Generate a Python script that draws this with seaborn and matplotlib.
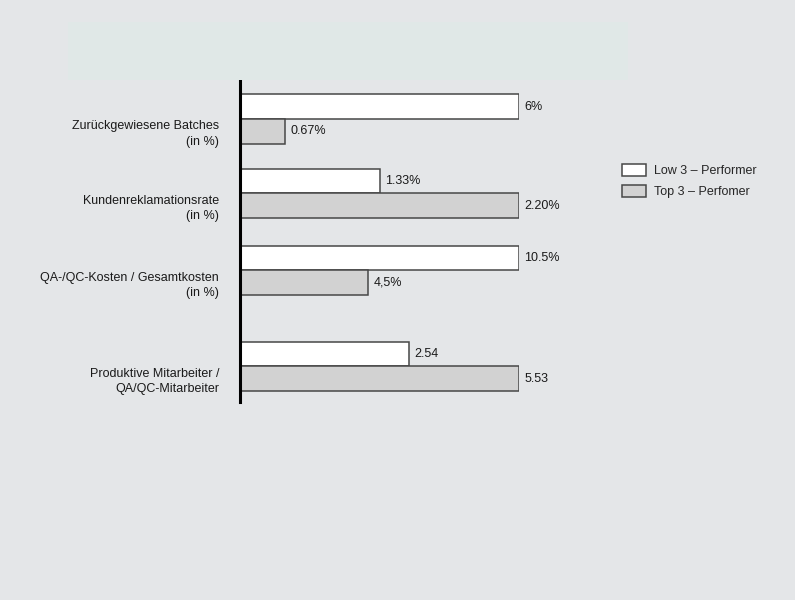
import matplotlib
matplotlib.use("Agg")
import matplotlib.pyplot as plt
import pandas as pd
import seaborn as sns
from matplotlib.patches import Rectangle

# categories and series
kategorien = [
    "Zurückgewiesene Batches\n(in %)",
    "Kundenreklamationsrate\n(in %)",
    "QA-/QC-Kosten / Gesamtkosten\n(in %)",
    "Produktive Mitarbeiter /\nQA/QC-Mitarbeiter",
]
serien = ["Low 3 – Performer", "Top 3 – Perfomer"]

# drawn bar lengths (the chart is not to scale), relative to the longest bar
low_laenge = [1.00, 0.50, 1.00, 0.605]
top_laenge = [0.16, 1.00, 0.46, 1.00]

# printed value labels
low_labels = ["6%", "1.33%", "10.5%", "2.54"]
top_labels = ["0.67%", "2.20%", "4,5%", "5.53"]

# layout: vertical group positions (last group set further apart)
gruppen_pos = [0.0, 1.0, 2.03, 3.32]

BG = "#e4e6e8"
farben = ["#ffffff", "#d2d2d2"]

df = pd.DataFrame({
    "pos": gruppen_pos * 2,
    "laenge": low_laenge + top_laenge,
    "serie": [serien[0]] * 4 + [serien[1]] * 4,
})

sns.set_style("white")
plt.rcParams["font.family"] = ["Liberation Sans", "DejaVu Sans"]
plt.rcParams["font.size"] = 9

fig = plt.figure(figsize=(7.95, 6.00), dpi=100, facecolor=BG)
fig.patches.append(Rectangle((68 / 795, 1 - 80 / 600), 560 / 795, 58 / 600,
                             transform=fig.transFigure, facecolor="#e0e8e7",
                             edgecolor="none", zorder=0))

ax = fig.add_axes([240 / 795, 1 - 402 / 600, 279 / 795, 322 / 600])
ax.set_facecolor("none")

sns.barplot(data=df, x="laenge", y="pos", hue="serie", hue_order=serien,
            orient="y", native_scale=True, width=0.66, gap=0,
            palette=farben, edgecolor="#474747", linewidth=1.1,
            errorbar=None, ax=ax)

for cont, labs in zip(ax.containers, [low_labels, top_labels]):
    ax.bar_label(cont, labels=labs, padding=4, fontsize=9, color="#1a1a1a",
                 clip_on=False)

ax.set_xlim(0, 1.0)
ax.set_ylim(3.80, -0.523)
ax.set_xticks([])
ax.set_yticks([p + 0.16 for p in gruppen_pos])
ax.set_yticklabels(kategorien, ha="right", fontsize=9, color="#1a1a1a",
                   linespacing=1.35)
ax.tick_params(axis="y", length=0, pad=15)
ax.set_xlabel("")
ax.set_ylabel("")

for s in ["top", "right", "bottom"]:
    ax.spines[s].set_visible(False)
ax.spines["left"].set_color("black")
ax.spines["left"].set_linewidth(2.2)

ax.legend(loc="upper left", bbox_to_anchor=(622 / 795, 1 - 164 / 600),
          bbox_transform=fig.transFigure, frameon=False, fontsize=9,
          handlelength=1.9, handleheight=1.05, handletextpad=0.65,
          labelspacing=0.65, borderpad=0, borderaxespad=0)

fig.savefig("out.png", dpi=100, facecolor=BG)
